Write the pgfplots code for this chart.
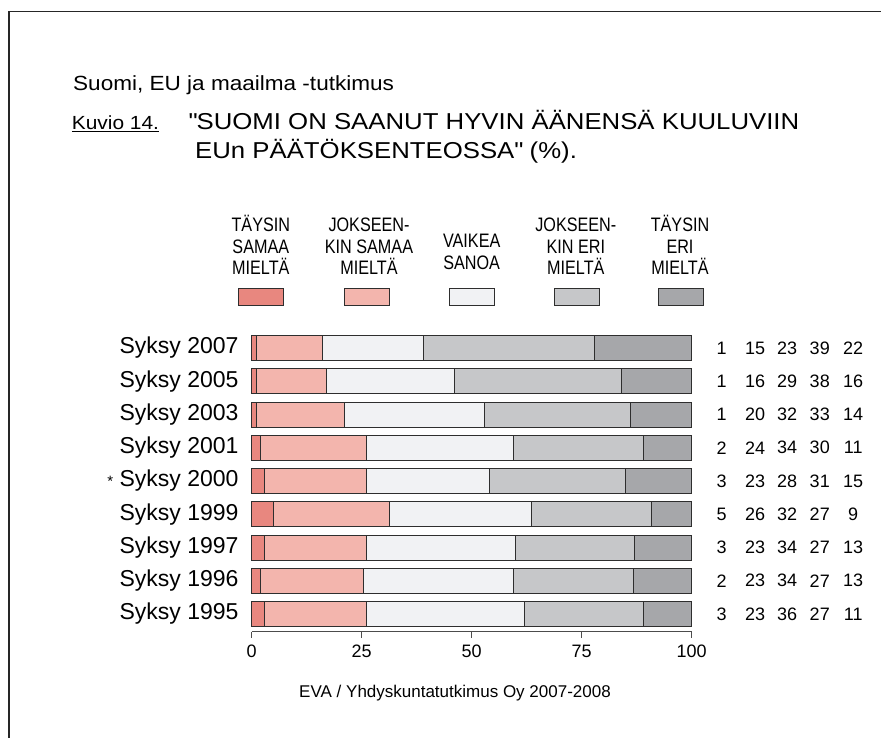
\documentclass[border=0pt]{standalone}
\usepackage{fontspec}
\setmainfont{Liberation Sans}
\newfontfamily\narrowfont[FakeStretch=0.83]{Liberation Sans}
\newfontfamily\wideA[FakeStretch=1.12]{Liberation Sans}
\newfontfamily\wideB[FakeStretch=1.10]{Liberation Sans}
\usepackage{pgfplots}
\pgfplotsset{compat=1.18}
\usepackage{pgfplotstable}

\definecolor{cA}{HTML}{E8877F}
\definecolor{cB}{HTML}{F3B5AD}
\definecolor{cC}{HTML}{F1F2F4}
\definecolor{cD}{HTML}{C6C7C9}
\definecolor{cE}{HTML}{A6A7AA}
\definecolor{edge}{HTML}{2E2E2E}

\def\sq{\XeTeXglyph\XeTeXcharglyph"22\relax}

% y: 0 = Syksy 1995 ... 8 = Syksy 2007
\pgfplotstableread{
y a b c d e la lb lc ld le
8 1 15 23 39 22 1 15 23 39 22
7 1 16 29 38 16 1 16 29 38 16
6 1 20 32 33 14 1 20 32 33 14
5 2 24 33.6 29.4 11 2 24 34 30 11
4 3 23 28 31 15 3 23 28 31 15
3 5 26.2 32.4 27.3 9.1 5 26 32 27 9
2 3 23 34 27 13 3 23 34 27 13
1 2 23.3 34.2 27.3 13.2 2 23 34 27 13
0 3 23 36 27 11 3 23 36 27 11
}\data

\begin{document}
\begin{tikzpicture}
\useasboundingbox (0,0) rectangle (881pt,738pt);
\draw[line width=1.2pt, black!85] (9pt,0pt) -- (9pt,726.7pt) -- (881pt,726.7pt);

% headings
\node[anchor=base west, inner sep=0pt, font=\wideB\fontsize{20.5}{24}\selectfont] at (73pt,647pt) {Suomi, EU ja maailma -tutkimus};
\node[anchor=base west, inner sep=0pt, font=\wideB\fontsize{19}{22}\selectfont] at (71.7pt,608.7pt) {\underline{Kuvio 14.}};
\node[anchor=base west, inner sep=0pt, font=\wideA\fontsize{23}{27}\selectfont] at (188.3pt,608.7pt) {\sq SUOMI ON SAANUT HYVIN ÄÄNENSÄ KUULUVIIN};
\node[anchor=base west, inner sep=0pt, font=\wideA\fontsize{23}{27}\selectfont] at (195pt,579.7pt) {EUn PÄÄTÖKSENTEOSSA\sq{} (\%).};

% legend text
\begin{scope}[every node/.style={anchor=base, inner sep=0pt, font=\narrowfont\fontsize{19.5}{22}\selectfont}]
\node at (260.8pt,506.3pt) {TÄYSIN};
\node at (260.8pt,484.7pt) {SAMAA};
\node at (260.8pt,463pt) {MIELTÄ};
\node at (369pt,506.3pt) {JOKSEEN-};
\node at (369pt,484.7pt) {KIN SAMAA};
\node at (369pt,463pt) {MIELTÄ};
\node at (471.7pt,490.7pt) {VAIKEA};
\node at (471.7pt,468.7pt) {SANOA};
\node at (575.8pt,506.3pt) {JOKSEEN-};
\node at (575.8pt,484.7pt) {KIN ERI};
\node at (575.8pt,463pt) {MIELTÄ};
\node at (680pt,506.3pt) {TÄYSIN};
\node at (680pt,484.7pt) {ERI};
\node at (680pt,463pt) {MIELTÄ};
\end{scope}
% legend swatches
\begin{scope}[draw=edge, line width=0.9pt]
\filldraw[fill=cA, draw=edge] (238.3pt,433pt) rectangle (283.3pt,449.7pt);
\filldraw[fill=cB, draw=edge] (344.2pt,433pt) rectangle (389.2pt,449.7pt);
\filldraw[fill=cC, draw=edge] (449.5pt,433pt) rectangle (494.5pt,449.7pt);
\filldraw[fill=cD, draw=edge] (554.5pt,433pt) rectangle (599.5pt,449.7pt);
\filldraw[fill=cE, draw=edge] (658pt,433pt) rectangle (703pt,449.7pt);
\end{scope}

\begin{axis}[
  at={(251.7pt,106.3pt)}, anchor=south west,
  scale only axis, width=440pt, height=300.3pt,
  xbar stacked, bar width=25pt,
  xmin=0, xmax=100, ymin=-0.532, ymax=8.5,
  axis x line*=bottom, axis y line*=left,
  y axis line style={draw=none},
  ytick={0,...,8},
  yticklabels={Syksy 1995,Syksy 1996,Syksy 1997,Syksy 1999,{{\fontsize{15}{15}\selectfont *} Syksy 2000},Syksy 2001,Syksy 2003,Syksy 2005,Syksy 2007},
  ytick style={draw=none},
  xtick={0,25,50,75,100},
  tick align=outside, major tick length=6pt,
  x axis line style={black!70, line width=0.8pt},
  xtick style={black!70, line width=0.8pt},
  /pgf/number format/assume math mode=true,
  xticklabel style={font=\fontsize{18}{18}\selectfont, yshift=-4pt},
  yticklabel style={font=\fontsize{23}{23}\selectfont, inner sep=0pt, xshift=-7pt},
  clip=false,
  every axis plot/.append style={draw=edge, line width=0.9pt},
]
\addplot[fill=cA] table[x=a,y=y]{\data};
\addplot[fill=cB] table[x=b,y=y]{\data};
\addplot[fill=cC] table[x=c,y=y]{\data};
\addplot[fill=cD] table[x=d,y=y]{\data};
\addplot[fill=cE] table[x=e,y=y]{\data};
\end{axis}

\begin{axis}[
  at={(251.7pt,106.3pt)}, anchor=south west,
  scale only axis, width=440pt, height=300.3pt,
  xmin=0, xmax=100, ymin=-0.532, ymax=8.5,
  hide axis, clip=false,
  nodes near coords style={anchor=center, inner sep=0pt, font=\fontsize{18}{18}\selectfont},
]
\addplot[draw=none, nodes near coords, point meta=explicit symbolic] table[x expr=106.8, y=y, meta=la]{\data};
\addplot[draw=none, nodes near coords, point meta=explicit symbolic] table[x expr=114.4, y=y, meta=lb]{\data};
\addplot[draw=none, nodes near coords, point meta=explicit symbolic] table[x expr=121.7, y=y, meta=lc]{\data};
\addplot[draw=none, nodes near coords, point meta=explicit symbolic] table[x expr=129.1, y=y, meta=ld]{\data};
\addplot[draw=none, nodes near coords, point meta=explicit symbolic] table[x expr=136.7, y=y, meta=le]{\data};
\end{axis}

\node[anchor=base, inner sep=0pt, font=\fontsize{17}{20}\selectfont] at (455pt,40pt) {EVA / Yhdyskuntatutkimus Oy 2007-2008};
\end{tikzpicture}
\end{document}
